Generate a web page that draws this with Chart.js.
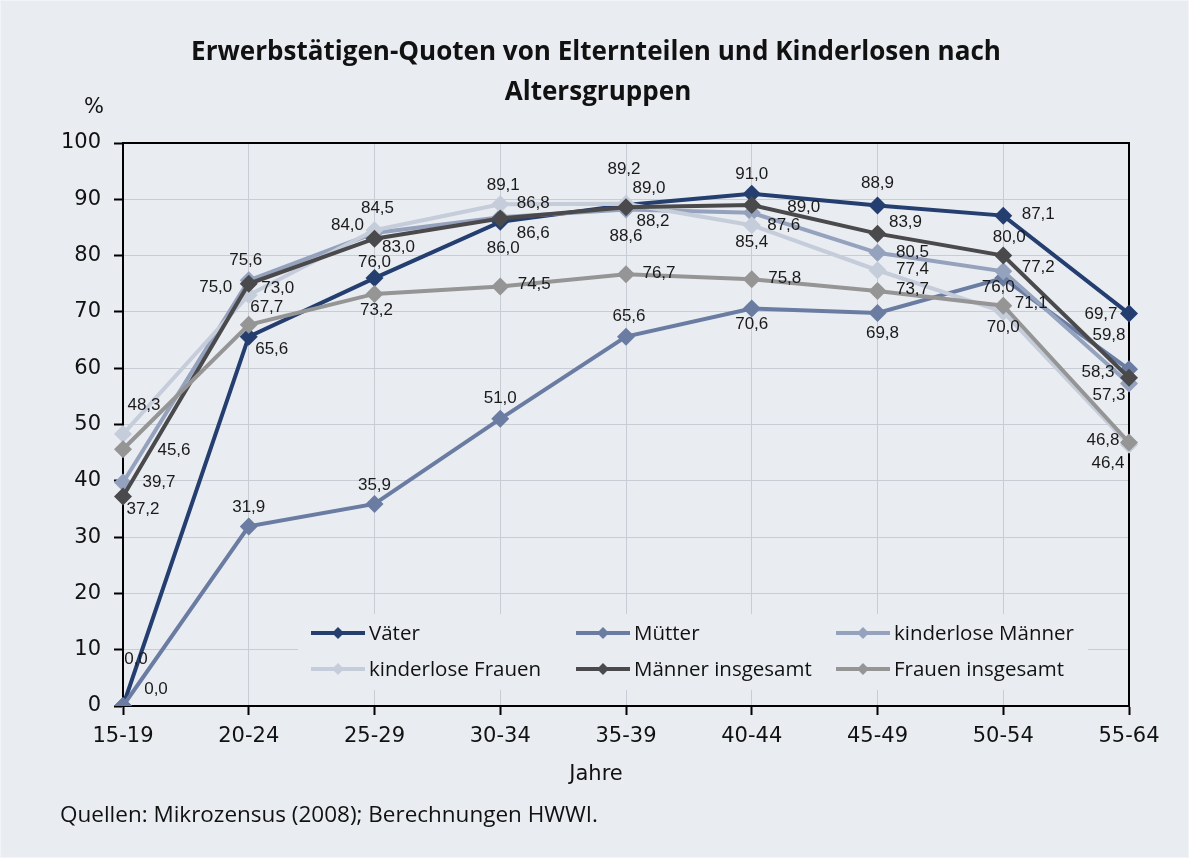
<!DOCTYPE html>
<html>
<head>
<meta charset="utf-8">
<script src="https://cdn.jsdelivr.net/npm/chart.js@4"></script>
<style>
  html, body { margin: 0; padding: 0; background: #e9ecf1; }
  #wrap { width: 1189px; height: 858px; position: relative; box-sizing: border-box; border: 1px solid #f2f4f7; }
</style>
</head>
<body>
<div id="wrap"><canvas id="myChart" width="1189" height="858"></canvas></div>
<script>
var categories = ["15-19", "20-24", "25-29", "30-34", "35-39", "40-44", "45-49", "50-54", "55-64"];
var seriesNames = ["Väter", "Mütter", "kinderlose Männer", "kinderlose Frauen", "Männer insgesamt", "Frauen insgesamt"];
var vaeter = [0.0, 65.6, 76.0, 86.0, 89.0, 91.0, 88.9, 87.1, 69.7];
var muetter = [0.0, 31.9, 35.9, 51.0, 65.6, 70.6, 69.8, 76.0, 59.8];
var kinderloseMaenner = [39.7, 75.6, 84.0, 86.8, 88.2, 87.6, 80.5, 77.2, 57.3];
var kinderloseFrauen = [48.3, 73.0, 84.5, 89.1, 89.2, 85.4, 77.4, 70.0, 46.4];
var maennerGesamt = [37.2, 75.0, 83.0, 86.6, 88.6, 89.0, 83.9, 80.0, 58.3];
var frauenGesamt = [45.6, 67.7, 73.2, 74.5, 76.7, 75.8, 73.7, 71.1, 46.8];

var colors = ["#243e70", "#6a7ca2", "#95a2bd", "#c5ccda", "#4a4a4c", "#959595"];

// label offsets (dx, dy) per point, in pixels
var labelOffsets = [
  [[13, -47], [23, 13], [0, -16], [3, 26], [23, -17], [0, -19], [0, -22], [35, -1], [-28, 1]],
  [[33, -17], [0, -19], [0, -19], [0, -21], [3, -20], [0, 16], [5, 20], [-5, 9], [-20, -34]],
  [[36, 0], [-3, -20], [-27, -8], [33, -14], [27, 12], [32, 13], [35, 0], [35, -4], [-20, 12]],
  [[21, -29], [29, -7], [3, -22], [3, -19], [-2, -34], [0, 17], [35, -1], [0, 15], [-21, 19]],
  [[20, 13], [-33, 4], [24, 9], [33, 15], [0, 29], [52, 2], [28, -11], [6, -18], [-31, -5]],
  [[51, 1], [18, -18], [2, 16], [34, -2], [33, -1], [33, -1], [35, -2], [28, -2], [-26, -2]]
];

var seriesData = [vaeter, muetter, kinderloseMaenner, kinderloseFrauen, maennerGesamt, frauenGesamt];

var datasets = seriesData.map(function (d, i) {
  return {
    label: seriesNames[i],
    data: d,
    borderColor: colors[i],
    backgroundColor: colors[i],
    borderWidth: 4,
    pointStyle: "rectRot",
    pointRadius: 9,
    pointHoverRadius: 9,
    pointBorderWidth: 0,
    tension: 0,
    order: 5 - i
  };
});

var FONT = "'Open Sans', 'Noto Sans', sans-serif";
var TICKFONT = "'DejaVu Sans', sans-serif";

// draw text scaled so it fills a given width
function fitText(c, text, x, y, width, style, family, size) {
  c.font = style + size + "px " + family;
  var w = c.measureText(text).width;
  var s = size * width / w;
  c.font = style + s.toFixed(2) + "px " + family;
  c.fillText(text, x, y);
}

var decorPlugin = {
  id: "decor",
  beforeDatasetsDraw: function (chart) {
    var c = chart.ctx, a = chart.chartArea;
    c.save();
    c.strokeStyle = "#000";
    c.lineWidth = 2;
    c.beginPath();
    c.moveTo(a.left, a.top);
    c.lineTo(a.right, a.top);
    c.lineTo(a.right, a.bottom);
    c.stroke();
    c.restore();
  },
  afterDatasetsDraw: function (chart) {
    var c = chart.ctx;
    c.save();
    // data labels
    c.font = "17px 'Liberation Sans', Arial, sans-serif";
    c.fillStyle = "#1a1a1a";
    c.textAlign = "center";
    c.textBaseline = "middle";
    chart.data.datasets.forEach(function (ds, i) {
      var meta = chart.getDatasetMeta(i);
      meta.data.forEach(function (pt, j) {
        var off = labelOffsets[i][j];
        c.fillText(ds.data[j].toFixed(1).replace(".", ","), pt.x + off[0], pt.y + off[1]);
      });
    });
    // legend box
    c.fillStyle = "#e9ecf1";
    c.fillRect(297, 613, 790, 76);
    var colX = [310, 575, 835];
    var rowY = [632, 668];
    c.font = "20.5px " + FONT;
    c.textAlign = "left";
    chart.data.datasets.forEach(function (ds, i) {
      var x = colX[i % 3], y = rowY[Math.floor(i / 3)];
      c.strokeStyle = ds.borderColor;
      c.lineWidth = 4;
      c.beginPath();
      c.moveTo(x, y);
      c.lineTo(x + 54, y);
      c.stroke();
      c.fillStyle = ds.borderColor;
      c.beginPath();
      c.moveTo(x + 27, y - 6);
      c.lineTo(x + 33, y);
      c.lineTo(x + 27, y + 6);
      c.lineTo(x + 21, y);
      c.closePath();
      c.fill();
      c.fillStyle = "#111";
      c.fillText(ds.label, x + 58, y + 1);
    });
    c.restore();
  },
  afterDraw: function (chart) {
    var c = chart.ctx;
    c.save();
    c.fillStyle = "#111";
    c.textAlign = "center";
    c.textBaseline = "middle";
    fitText(c, "Erwerbstätigen-Quoten von Elternteilen und Kinderlosen nach", 595, 52, 810, "bold ", FONT, 25);
    c.fillText("Altersgruppen", 597, 92);
    c.font = "21px " + TICKFONT;
    c.fillText("%", 93, 107);
    c.fillText("Jahre", 595, 774);
    c.textAlign = "left";
    fitText(c, "Quellen: Mikrozensus (2008); Berechnungen HWWI.", 59, 815, 538, "", FONT, 20);
    c.restore();
  }
};

var ctx = document.getElementById("myChart").getContext("2d");
var chart = new Chart(ctx, {
  type: "line",
  data: { labels: categories, datasets: datasets },
  options: {
    responsive: false,
    animation: false,
    layout: { padding: { top: 142, right: 61, left: 0, bottom: 0 } },
    plugins: {
      legend: { display: false },
      tooltip: { enabled: false },
      title: { display: false }
    },
    scales: {
      x: {
        offset: false,
        afterFit: function (s) { s.height = 153; },
        grid: {
          color: "#c7ccd5",
          borderDash: [3, 3],
          tickColor: "#000",
          tickLength: 9,
          tickWidth: 2,
          tickBorderDash: []
        },
        border: { color: "#000", width: 2 },
        ticks: { color: "#111", font: { family: TICKFONT, size: 21 }, padding: 9, maxRotation: 0 }
      },
      y: {
        min: 0,
        max: 100,
        afterFit: function (s) { s.width = 122; },
        grid: {
          color: "#c7ccd5",
          borderDash: [3, 3],
          tickColor: "#000",
          tickLength: 9,
          tickWidth: 2,
          tickBorderDash: []
        },
        border: { color: "#000", width: 2 },
        ticks: { stepSize: 10, color: "#111", font: { family: TICKFONT, size: 21 }, padding: 13 }
      }
    }
  },
  plugins: [decorPlugin]
});
</script>
</body>
</html>
